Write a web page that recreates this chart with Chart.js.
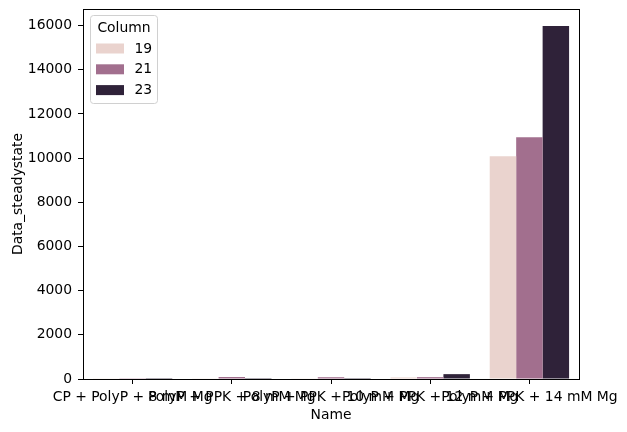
<!DOCTYPE html>
<html>
<head>
<meta charset="utf-8">
<script src="https://cdn.jsdelivr.net/npm/chart.js@4"></script>
<style>
html,body{margin:0;padding:0;background:#fff;}
#wrap{width:627px;height:432px;position:relative;}
</style>
</head>
<body>
<div id="wrap"><canvas id="c" width="627" height="432"></canvas></div>
<script>
const categories = ["CP + PolyP + 8 mM Mg", "PolyP + PPK + 8 mM Mg", "PolyP + PPK + 10 mM Mg", "PolyP + PPK + 12 mM Mg", "PolyP + PPK + 14 mM Mg"];
const seriesNames = ["19", "21", "23"];
const values19 = [30, 30, 30, 70, 10080];
const values21 = [35, 90, 80, 85, 10940];
const values23 = [40, 40, 40, 220, 15980];
const seriesColors = ["#ead3ce", "#a26f8e", "#2f2239"];
const yTicks = [0, 2000, 4000, 6000, 8000, 10000, 12000, 14000, 16000];

const FONT = "'DejaVu Sans', sans-serif";
const FS = 13.9;
Chart.defaults.font.family = FONT;
Chart.defaults.font.size = FS;
Chart.defaults.color = "#000";

const frame = {
  id: 'frame',
  afterDraw(chart) {
    const {ctx, chartArea: a} = chart;
    ctx.save();
    ctx.strokeStyle = '#000';
    ctx.lineWidth = 1;
    ctx.strokeRect(Math.round(a.left) + 0.5, Math.round(a.top) + 0.5, Math.round(a.right - a.left), Math.round(a.bottom - a.top));
    ctx.restore();
  }
};

const legendBox = {
  id: 'legendBox',
  afterDraw(chart) {
    const ctx = chart.ctx;
    const a = chart.chartArea;
    const x0 = a.left + 7.5, y0 = a.top + 6.5, w = 67, h = 88;
    ctx.save();
    ctx.fillStyle = 'rgba(255,255,255,0.8)';
    ctx.strokeStyle = '#d0d0d0';
    ctx.lineWidth = 1;
    ctx.beginPath();
    ctx.roundRect(x0, y0, w, h, 3);
    ctx.fill();
    ctx.stroke();
    ctx.fillStyle = '#000';
    ctx.font = FS + "px " + FONT;
    ctx.textAlign = 'center';
    ctx.textBaseline = 'middle';
    ctx.fillText('Column', x0 + w / 2, y0 + 13);
    chart.data.datasets.forEach((ds, i) => {
      const yy = y0 + 28 + i * 20.8;
      ctx.fillStyle = ds.backgroundColor;
      ctx.fillRect(x0 + 5.5, yy, 28, 10);
      ctx.fillStyle = '#000';
      ctx.textAlign = 'left';
      ctx.fillText(ds.label, x0 + 44, yy + 5.5);
    });
    ctx.restore();
  }
};

new Chart(document.getElementById('c'), {
  type: 'bar',
  data: {
    labels: categories,
    datasets: [
      {label: seriesNames[0], data: values19, backgroundColor: seriesColors[0]},
      {label: seriesNames[1], data: values21, backgroundColor: seriesColors[1]},
      {label: seriesNames[2], data: values23, backgroundColor: seriesColors[2]}
    ]
  },
  options: {
    responsive: false,
    animation: false,
    devicePixelRatio: 1,
    layout: {padding: {left: 0, right: 48, top: 9, bottom: 0}},
    datasets: {bar: {categoryPercentage: 0.8, barPercentage: 1.0, borderWidth: 0}},
    plugins: {legend: {display: false}, tooltip: {enabled: false}},
    scales: {
      x: {
        grid: {display: true, offset: false, drawOnChartArea: false, drawTicks: true, tickLength: 5, tickColor: '#000', color: '#000'},
        border: {display: true, color: '#000', width: 1},
        ticks: {autoSkip: false, maxRotation: 0, minRotation: 0, padding: 5, color: '#000', font: {size: FS}},
        title: {display: true, text: 'Name', color: '#000', font: {size: FS}, padding: {top: 0, bottom: 8}},
        afterFit(s) { s.height = 53; s.paddingLeft = 0; s.paddingRight = 0; }
      },
      y: {
        min: 0,
        max: 16750,
        grid: {display: true, drawOnChartArea: false, drawTicks: true, tickLength: 5, tickColor: '#000', color: '#000'},
        border: {display: true, color: '#000', width: 1},
        ticks: {padding: 6, color: '#000', font: {size: FS}, callback: (v) => String(v)},
        afterBuildTicks(s) { s.ticks = yTicks.map(v => ({value: v})); },
        title: {display: true, text: 'Data_steadystate', color: '#000', font: {size: FS}, padding: {top: 10, bottom: 4}},
        afterFit(s) { s.width = 83; s.paddingTop = 0; s.paddingBottom = 0; }
      }
    }
  },
  plugins: [frame, legendBox]
});
</script>
</body>
</html>
